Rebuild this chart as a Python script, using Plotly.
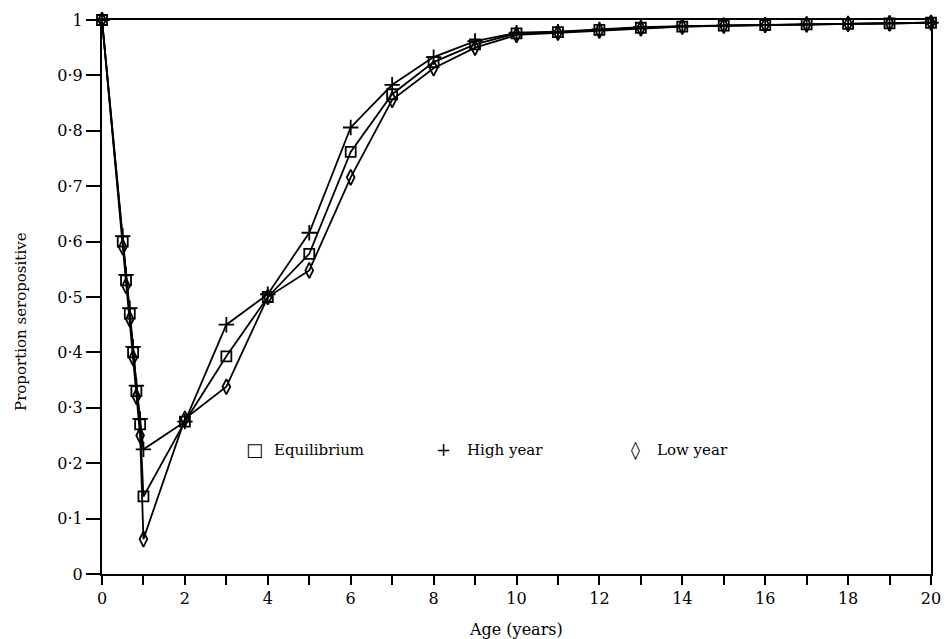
import plotly.graph_objects as go

ages = [0, 0.5, 0.58, 0.67, 0.75, 0.83, 0.92, 1, 2, 3, 4, 5, 6, 7, 8, 9, 10,
        11, 12, 13, 14, 15, 16, 17, 18, 19, 20]

equilibrium = [1.0, 0.60, 0.53, 0.47, 0.40, 0.33, 0.27, 0.14, 0.275, 0.393, 0.50,
               0.578, 0.762, 0.866, 0.924, 0.956, 0.976, 0.978, 0.982, 0.986,
               0.988, 0.990, 0.991, 0.992, 0.993, 0.994, 0.995]
high_year = [1.0, 0.61, 0.54, 0.48, 0.41, 0.34, 0.28, 0.225, 0.275, 0.450, 0.505,
             0.616, 0.806, 0.883, 0.933, 0.962, 0.977, 0.979, 0.983, 0.987,
             0.989, 0.990, 0.991, 0.992, 0.993, 0.994, 0.995]
low_year = [1.0, 0.59, 0.52, 0.46, 0.39, 0.32, 0.25, 0.063, 0.280, 0.338, 0.50,
            0.548, 0.716, 0.856, 0.913, 0.950, 0.973, 0.977, 0.981, 0.985,
            0.988, 0.990, 0.991, 0.992, 0.993, 0.994, 0.995]

y_ticks = [0, 0.1, 0.2, 0.3, 0.4, 0.5, 0.6, 0.7, 0.8, 0.9, 1]
y_labels = ["0", "0·1", "0·2", "0·3", "0·4", "0·5", "0·6", "0·7", "0·8", "0·9", "1"]
x_ticks = list(range(0, 21))
x_labels = [str(v) if v % 2 == 0 else "" for v in x_ticks]

key_names = ["Equilibrium", "High year", "Low year"]
key_symbols = ["□", "+", "◊"]

FONT = "DejaVu Serif"

fig = go.Figure()
series = [
    (key_names[0], equilibrium, "square-open", 10),
    (key_names[1], high_year, "cross-thin-open", 11),
    (key_names[2], low_year, "diamond-tall-open", 11),
]
for name, vals, sym, sz in series:
    fig.add_trace(go.Scatter(
        x=ages, y=vals, mode="lines+markers", name=name,
        line=dict(color="black", width=1.8),
        marker=dict(symbol=sym, size=sz, color="black",
                    line=dict(color="black", width=1.8)),
        cliponaxis=False, showlegend=False,
    ))

# in-plot key (symbol + label)
key_sym_x = [3.69, 8.23, 12.86]
key_txt_x = [4.10, 8.76, 13.34]
key_y = 0.224
for sx, tx, sym, name in zip(key_sym_x, key_txt_x, key_symbols, key_names):
    fig.add_annotation(x=sx, y=key_y, xref="x", yref="y", text=sym,
                       showarrow=False, xanchor="center", yanchor="middle",
                       font=dict(family=FONT, size=18, color="black"))
    fig.add_annotation(x=tx, y=key_y, xref="x", yref="y", text=name,
                       showarrow=False, xanchor="left", yanchor="middle",
                       font=dict(family=FONT, size=15, color="black"))

# axis titles
fig.add_annotation(x=0.4994, y=-0.101, xref="paper", yref="paper",
                   text="Age (years)", showarrow=False,
                   xanchor="center", yanchor="middle",
                   font=dict(family=FONT, size=16, color="black"))
fig.add_annotation(x=-0.0977, y=0.455, xref="paper", yref="paper",
                   text="Proportion seropositive", showarrow=False,
                   textangle=-90, xanchor="center", yanchor="middle",
                   font=dict(family=FONT, size=15, color="black"))

fig.update_layout(
    width=945, height=639,
    margin=dict(l=102, r=14, t=20, b=65),
    paper_bgcolor="white", plot_bgcolor="white",
    font=dict(family=FONT, color="black"),
    showlegend=False,
)
fig.update_xaxes(
    range=[0, 20], tickvals=x_ticks, ticktext=x_labels,
    ticks="outside", ticklen=9, tickwidth=1.5, tickcolor="black",
    showline=True, linecolor="black", linewidth=2, mirror=True,
    showgrid=False, zeroline=False, automargin=False,
    tickfont=dict(family=FONT, size=16, color="black"),
)
fig.update_yaxes(
    range=[0, 1], tickvals=y_ticks, ticktext=y_labels,
    ticks="outside", ticklen=14, tickwidth=1.5, tickcolor="black",
    showline=True, linecolor="black", linewidth=2, mirror=True,
    showgrid=False, zeroline=False, automargin=False,
    tickfont=dict(family=FONT, size=16, color="black"),
)

fig.write_html("out.html",
               config={"displayModeBar": False},
               post_script="document.body.style.margin='0';")
